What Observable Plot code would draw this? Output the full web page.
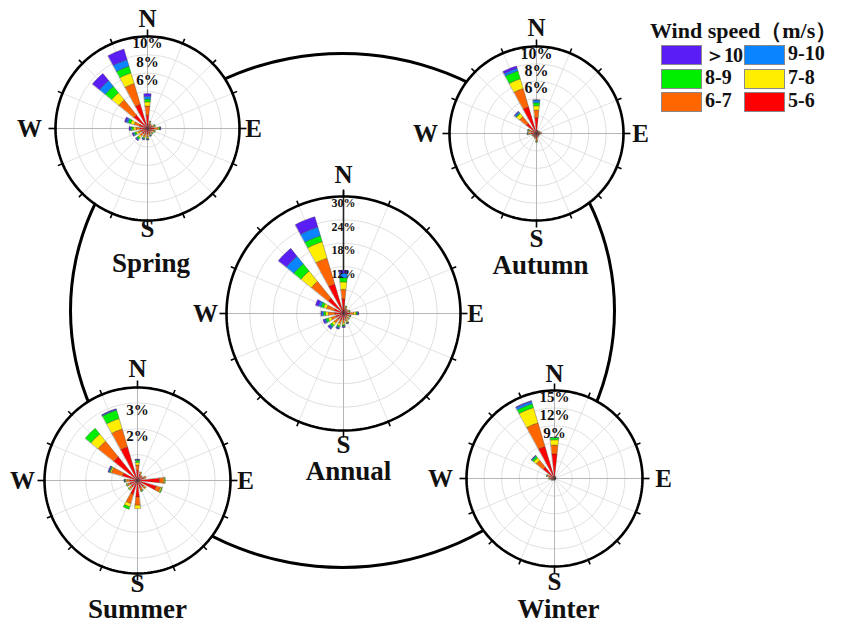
<!DOCTYPE html>
<html><head><meta charset="utf-8">
<script src="https://cdn.jsdelivr.net/npm/d3@7"></script>
<script src="https://cdn.jsdelivr.net/npm/@observablehq/plot@0.6"></script>
<style>
body{margin:0;background:#fff;}
#chart{position:relative;width:843px;height:624px;overflow:hidden;font-family:"Liberation Serif","Times New Roman",serif;}
#ring{position:absolute;box-sizing:border-box;border:3px solid #000;border-radius:50%;}
.leg{position:absolute;font-weight:bold;white-space:nowrap;color:#111;}
.sw{position:absolute;box-sizing:border-box;border:1px solid #8a8a8a;}
</style></head><body><div id="chart"></div>
<script>
// ---- data ----
const directions = ["N","NNE","NE","ENE","E","ESE","SE","SSE","S","SSW","SW","WSW","W","WNW","NW","NNW"];
const angles = directions.map((d, i) => i * 22.5);
const speedBins = ["5-6","6-7","7-8","8-9","9-10","＞10"];
const binColors = ["#ff0000","#ff6600","#ffee00","#00ee00","#0a84ff","#5a1ef5"];
const legendOrder = ["＞10","9-10","8-9","7-8","6-7","5-6"];

// frequency (%) per direction, per speed bin [5-6, 6-7, 7-8, 8-9, 9-10, >10]
const springValues = [
  [1.45,1.0,0.45,0.3,0.3,0.3],[0.5,0.2,0.1,0.05,0,0],[0.4,0.15,0.05,0,0,0],[0.5,0.25,0.1,0.05,0,0],
  [0.7,0.4,0.15,0.1,0.05,0.05],[0.5,0.25,0.1,0.05,0,0],[0.45,0.2,0.1,0.05,0,0],[0.5,0.2,0.1,0.05,0.05,0],
  [0.6,0.3,0.15,0.1,0.05,0.05],[0.6,0.3,0.15,0.1,0.1,0.05],[0.7,0.35,0.25,0.2,0.1,0.1],[0.7,0.35,0.25,0.2,0.15,0.1],
  [0.8,0.45,0.3,0.2,0.15,0.1],[0.9,0.6,0.4,0.3,0.2,0.2],[1.9,2.1,1.0,0.9,0.8,1.0],[2.75,2.35,1.2,0.75,0.75,1.2]
];
const autumnValues = [
  [1.84,0.85,0.5,0.35,0.3,0.03],[0.3,0.1,0,0,0,0],[0.25,0.1,0,0,0,0],[0.3,0.1,0.05,0,0,0],
  [0.4,0.15,0.05,0,0,0],[0.3,0.1,0,0,0,0],[0.25,0.1,0,0,0,0],[0.3,0.1,0.05,0,0,0],
  [0.6,0.25,0.1,0.05,0,0],[0.4,0.15,0.05,0,0,0],[0.35,0.1,0.05,0,0,0],[0.35,0.15,0.05,0,0,0],
  [0.6,0.3,0.1,0.05,0.03,0],[0.6,0.3,0.1,0.05,0.03,0],[1.5,1.0,0.45,0.1,0.15,0.1],[3.2,2.2,1.15,0.95,0.3,0.3]
];
const annualValues = [
  [3.8,2.4,1.9,1.1,1.1,0.8],[1.2,0.5,0.2,0.1,0,0],[0.9,0.4,0.1,0,0,0],[1.0,0.5,0.2,0.1,0,0],
  [1.6,1.0,0.6,0.3,0.2,0.2],[1.0,0.5,0.3,0.1,0.05,0],[1.0,0.6,0.3,0.1,0,0],[1.3,0.7,0.4,0.2,0.1,0.1],
  [1.6,0.8,0.5,0.3,0.2,0.2],[1.7,1.0,0.6,0.4,0.3,0.2],[1.9,1.2,0.8,0.5,0.4,0.4],[2.0,1.3,0.8,0.6,0.4,0.4],
  [2.2,1.7,0.7,0.5,0.5,0.2],[2.5,2.0,0.8,0.7,0.7,0.8],[5.1,5.5,3.4,2.4,2.5,2.6],[7.9,6.9,4.4,1.6,2.3,2.8]
];
const summerValues = [
  [0.4,0.2,0.1,0.08,0.03,0.02],[0.25,0.08,0.02,0,0,0],[0.2,0.05,0,0,0,0],[0.25,0.08,0.02,0,0,0],
  [0.85,0.16,0.05,0.01,0,0],[0.75,0.18,0.05,0.02,0,0],[0.3,0.1,0.03,0,0,0],[0.3,0.1,0.03,0.02,0,0],
  [0.64,0.32,0.13,0,0,0],[0.56,0.37,0.13,0.1,0,0],[0.3,0.1,0.05,0.02,0,0],[0.3,0.1,0.04,0.02,0,0],
  [0.3,0.12,0.05,0.02,0.02,0.01],[0.6,0.45,0.05,0.03,0.03,0.03],[1.18,0.78,0.36,0.28,0,0],[1.36,0.72,0.42,0.34,0.03,0.03]
];
const winterValues = [
  [4.2,1.5,0.9,0.4,0.05,0],[0.3,0.1,0,0,0,0],[0.2,0.05,0,0,0,0],[0.2,0.05,0,0,0,0],
  [0.2,0.05,0,0,0,0],[0.15,0.05,0,0,0,0],[0.15,0.05,0,0,0,0],[0.15,0.05,0,0,0,0],
  [0.2,0.05,0,0,0,0],[0.2,0.05,0,0,0,0],[0.3,0.1,0,0,0,0],[0.4,0.15,0.05,0,0,0],
  [0.6,0.3,0.1,0,0,0],[0.9,0.4,0.1,0.05,0,0],[2.5,1.5,0.55,0.35,0.15,0.05],[5.7,4.2,2.7,0.7,0.4,0.15]
];
const springRings = [2,4,6,8,10], springLabels = [10,8,6];
const autumnRings = [2,4,6,8,10], autumnLabels = [10,8,6];
const annualRings = [6,12,18,24,30], annualLabels = [30,24,18,12];
const summerRings = [1,2,3], summerLabels = [3,2];
const winterRings = [3,6,9,12,15], winterLabels = [15,12,9];

// ---- layout (pixels) ----
const roses = [
  {title:"Spring", values:springValues, rings:springRings, labels:springLabels, max:10,
   cx:146.5, cy:127.5, R:92, labelSize:15, off:{n:110, s:100, e:106, w:118}, tdx:3.5, tdy:135, axis:"#b5b5b5"},
  {title:"Autumn", values:autumnValues, rings:autumnRings, labels:autumnLabels, max:10,
   cx:536, cy:133, R:87, labelSize:16, off:{n:106, s:105, e:104, w:111}, tdx:4, tdy:132, axis:"#b5b5b5"},
  {title:"Annual", values:annualValues, rings:annualRings, labels:annualLabels, max:30,
   cx:343, cy:313, R:117, labelSize:12, off:{n:139, s:131, e:132, w:138}, tdx:5, tdy:158, axis:"#b5b5b5", north:"#222"},
  {title:"Summer", values:summerValues, rings:summerRings, labels:summerLabels, max:3.6,
   cx:137, cy:480, R:93, labelSize:15, off:{n:112, s:103, e:108, w:115}, tdx:0, tdy:129, axis:"#b5b5b5"},
  {title:"Winter", values:winterValues, rings:winterRings, labels:winterLabels, max:15,
   cx:554, cy:478, R:88, labelSize:15, off:{n:105, s:103, e:109, w:114}, tdx:4, tdy:131, axis:"#b5b5b5"}
];
const halfWidth = 6; // degrees
const serif = "Liberation Serif, Times New Roman, serif";

const chart = document.getElementById("chart");
const ring = document.createElement("div");
ring.id = "ring";
Object.assign(ring.style, {left:(342-273.5)+"px", top:(310-258.5)+"px", width:"547px", height:"517px"});
chart.appendChild(ring);

const rad = d => d * Math.PI / 180;
const P = (r, deg) => ({x: r * Math.sin(rad(deg)), y: r * Math.cos(rad(deg))});
const circle = (r, extra = {}) => d3.range(0, 360, 2).map(a => ({...P(r, a), ...extra}));

function rose(cfg) {
  const S = cfg.R + 78;
  const k = cfg.R / cfg.max;
  const E = S / k;
  const M = cfg.max;
  const wedges = [];
  cfg.values.forEach((bins, i) => {
    let r0 = 0; const a = angles[i];
    bins.forEach((v, j) => {
      if (v <= 0) return;
      const r1 = r0 + v, id = i + "-" + j, bin = speedBins[j];
      const n = 6;
      for (let t = 0; t <= n; t++) wedges.push({id, bin, ...P(r1, a - halfWidth + 2 * halfWidth * t / n)});
      if (r0 > 0) for (let t = n; t >= 0; t--) wedges.push({id, bin, ...P(r0, a - halfWidth + 2 * halfWidth * t / n)});
      else wedges.push({id, bin, x: 0, y: 0});
      r0 = r1;
    });
  });
  const ringPts = cfg.rings.flatMap(r => circle(r, {r}));
  const ticks = angles.map(a => ({a, len: a % 90 === 0 ? 7 : 5}));
  const txt = (t, dx, dy, size) => Plot.text([t], {frameAnchor: "middle", text: d => d, dx, dy,
    fontSize: size, fontWeight: "bold", fontFamily: serif, fill: "#111"});
  const plot = Plot.plot({
    width: 2 * S, height: 2 * S, margin: 0,
    x: {domain: [-E, E], axis: null}, y: {domain: [-E, E], axis: null},
    color: {domain: speedBins, range: binColors},
    style: {background: "transparent", overflow: "visible", fontFamily: serif},
    marks: [
      Plot.line(circle(M), {x: "x", y: "y", fill: "white", stroke: "none", curve: "linear-closed"}),
      Plot.line(ringPts, {x: "x", y: "y", z: "r", stroke: "#d6d6d6", strokeWidth: 0.8, curve: "linear-closed"}),
      Plot.link(angles, {x1: () => 0, y1: () => 0, x2: a => P(M, a).x, y2: a => P(M, a).y, stroke: "#dadada", strokeWidth: 0.8}),
      Plot.link([90, 180, 270], {x1: () => 0, y1: () => 0, x2: a => P(M, a).x, y2: a => P(M, a).y, stroke: cfg.axis, strokeWidth: 1}),
      Plot.link([0], {x1: () => 0, y1: () => 0, x2: a => P(M + 6 / k, a).x, y2: a => P(M + 6 / k, a).y,
        stroke: cfg.north || cfg.axis, strokeWidth: cfg.north ? 1.6 : 1}),
      Plot.line(wedges, {x: "x", y: "y", z: "id", fill: "bin", stroke: "#3a3a3a", strokeWidth: 0.35, curve: "linear-closed"}),
      Plot.text(cfg.labels, {x: () => 0, y: d => d, dy: 7, text: d => d + "%", fontSize: cfg.labelSize,
        fontWeight: "bold", fontFamily: serif, fill: "#111"}),
      Plot.line(circle(M), {x: "x", y: "y", stroke: "#000", strokeWidth: 2.6, curve: "linear-closed"}),
      Plot.link(ticks, {x1: d => P(M - 1 / k, d.a).x, y1: d => P(M - 1 / k, d.a).y,
        x2: d => P(M + d.len / k, d.a).x, y2: d => P(M + d.len / k, d.a).y, stroke: "#000", strokeWidth: 1.6}),
      txt("N", 0, -cfg.off.n, 25), txt("S", 0, cfg.off.s, 25),
      txt("E", cfg.off.e, 0, 25), txt("W", -cfg.off.w, 0, 25),
      txt(cfg.title, cfg.tdx, cfg.tdy, 27)
    ]
  });
  Object.assign(plot.style, {position: "absolute", left: (cfg.cx - S) + "px", top: (cfg.cy - S) + "px", maxWidth: "none"});
  chart.appendChild(plot);
}
roses.forEach(rose);

// ---- legend ----
const title = document.createElement("div");
title.className = "leg";
title.textContent = "Wind speed（m/s）";
Object.assign(title.style, {left: "650px", top: "16px", fontSize: "22px"});
chart.appendChild(title);
const colorOf = d3.scaleOrdinal(speedBins, binColors);
legendOrder.forEach((b, i) => {
  const col = i % 2, row = Math.floor(i / 2);
  const sw = document.createElement("div");
  sw.className = "sw";
  Object.assign(sw.style, {left: (661 + col * 83) + "px", top: (45 + row * 23.5) + "px", width: "41px", height: "20px", background: colorOf(b)});
  chart.appendChild(sw);
  const lb = document.createElement("div");
  lb.className = "leg";
  lb.textContent = b;
  Object.assign(lb.style, {left: (705 + col * 83) + "px", top: (42 + row * 23.5) + "px", fontSize: "20px",
    letterSpacing: b.startsWith("＞") ? "-1px" : "0"});
  chart.appendChild(lb);
});
</script></body></html>
